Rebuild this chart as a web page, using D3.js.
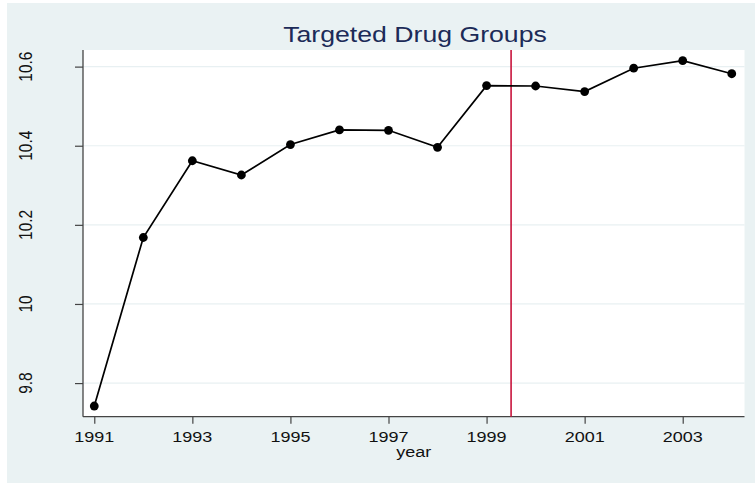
<!DOCTYPE html>
<html><head><meta charset="utf-8">
<script src="https://cdn.jsdelivr.net/npm/d3@7/dist/d3.min.js"></script>
<style>body{margin:0;background:#fff}svg{display:block}text{font-family:"Liberation Sans",Arial,sans-serif}</style>
</head><body><svg id="c" width="755" height="483"></svg>
<script>
const years = [1991,1992,1993,1994,1995,1996,1997,1998,1999,2000,2001,2002,2003,2004];
const values = [9.742,10.168,10.362,10.326,10.403,10.440,10.439,10.396,10.552,10.551,10.537,10.596,10.615,10.582];
const yTicks = [9.8,10,10.2,10.4,10.6];
const yTickLabels = ["9.8","10","10.2","10.4","10.6"];
const xTicks = [1991,1993,1995,1997,1999,2001,2003];
const refYear = 1999.5;
const title = "Targeted Drug Groups";
const xTitle = "year";

const svg = d3.select("#c");
const L=83, R=744.5, T=50, B=416.7, SX=1.2;
const x = d3.scaleLinear().domain([1990.77,2004.26]).range([L,R]);
const y = d3.scaleLinear().domain([9.715,10.642]).range([B,T]);

svg.append("rect").attr("x",7).attr("y",3).attr("width",748).attr("height",480).attr("fill","#eaf2f3");
svg.append("rect").attr("x",L).attr("y",T).attr("width",R-L).attr("height",B-T).attr("fill","#fff");

// gridlines
svg.append("g").selectAll("line").data(yTicks).join("line")
  .attr("x1",L).attr("x2",R).attr("y1",d=>y(d)).attr("y2",d=>y(d))
  .attr("stroke","#e8f0f2").attr("stroke-width",1.2);

// axes
const yAxis = svg.append("g").attr("transform",`translate(${L},0)`)
  .call(d3.axisLeft(y).tickValues(yTicks).tickSize(8).tickFormat(""));
const xAxis = svg.append("g").attr("transform",`translate(0,${B})`)
  .call(d3.axisBottom(x).tickValues(xTicks).tickSize(7).tickFormat(""));
[yAxis,xAxis].forEach(a=>{
  a.select(".domain").attr("stroke","#444").attr("stroke-width",1.3);
  a.selectAll(".tick line").attr("stroke","#444").attr("stroke-width",1.2);
});
// y domain without outer tick: redraw
yAxis.select(".domain").attr("d",`M0,${T}V${B}`);
xAxis.select(".domain").attr("d",`M${L},0H${R}`);

// tick labels
svg.append("g").selectAll("text").data(yTicks).join("text")
  .attr("transform",(d)=>`translate(32.3,${y(d)}) rotate(-90) scale(1,${SX})`)
  .attr("text-anchor","middle").attr("font-size",15.5).attr("fill","#111")
  .text((d,i)=>yTickLabels[i]);
svg.append("g").selectAll("text").data(xTicks).join("text")
  .attr("transform",d=>`translate(${x(d)},441.7) scale(${SX},1)`)
  .attr("text-anchor","middle").attr("font-size",15).attr("fill","#111")
  .text(d=>String(d));
svg.append("text").attr("transform",`translate(413.7,456.5) scale(${SX},1)`)
  .attr("text-anchor","middle").attr("font-size",15).attr("fill","#111").text(xTitle);
svg.append("text").attr("transform",`translate(415,42.3) scale(${SX},1)`)
  .attr("text-anchor","middle").attr("font-size",22.2).attr("fill","#1c2b58").text(title);

// reference line
svg.append("line").attr("x1",x(refYear)).attr("x2",x(refYear)).attr("y1",T).attr("y2",B)
  .attr("stroke","#c8143c").attr("stroke-width",1.6);

// series
const pts = years.map((yr,i)=>[yr,values[i]]);
svg.append("path").datum(pts).attr("fill","none").attr("stroke","#000").attr("stroke-width",1.7)
  .attr("d",d3.line().x(d=>x(d[0])).y(d=>y(d[1])));
svg.append("g").selectAll("circle").data(pts).join("circle")
  .attr("cx",d=>x(d[0])).attr("cy",d=>y(d[1])).attr("r",4.4).attr("fill","#000");
</script></body></html>
